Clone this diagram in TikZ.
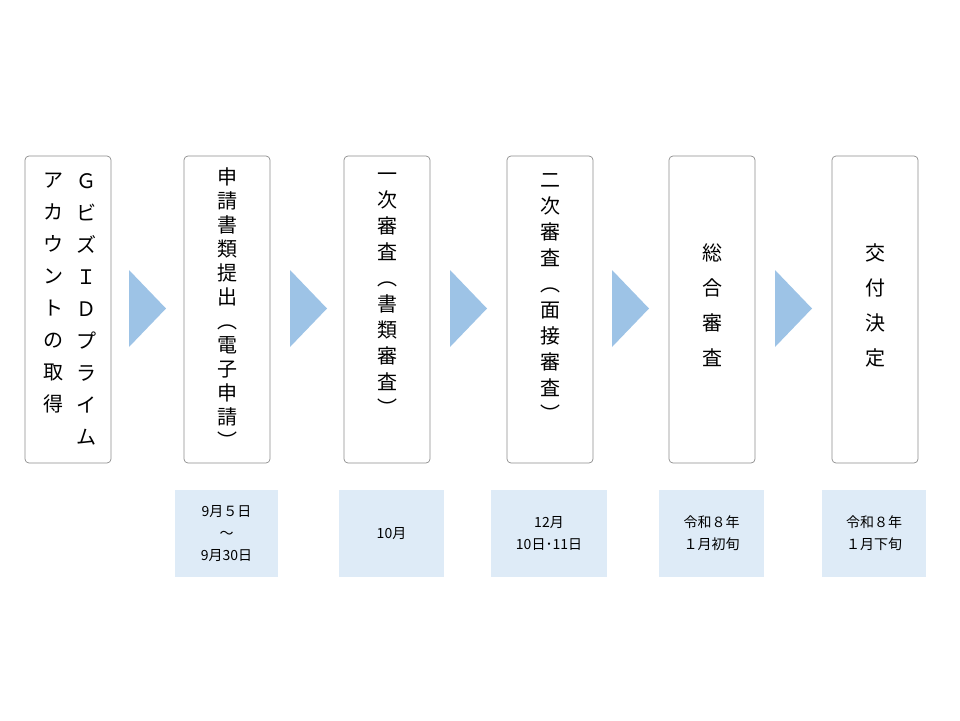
\documentclass[tikz,border=0pt]{standalone}
\usepackage{fontspec}
\setmainfont{Noto Sans CJK JP}
\newfontfamily\cjk{Noto Sans CJK JP}
\begin{document}
\begin{tikzpicture}[x=1pt,y=-1pt,
  stepbox/.style={draw=black!45,rounded corners=4pt,line width=0.7pt},
  datebox/.style={fill=datefill,draw=none},
  vt/.style={font=\cjk\fontsize{20}{#1}\selectfont,align=center,anchor=north,inner sep=0},
  dt/.style={font=\cjk\fontsize{14}{22}\selectfont,align=center}]
\definecolor{arrowfill}{HTML}{9DC3E6}
\definecolor{datefill}{HTML}{DEEBF7}
\useasboundingbox (0,0) rectangle (960,720);
\foreach \n/\x in {b1/25,b2/184,b3/344,b4/507,b5/669,b6/832}{
  \draw[stepbox] (\x,156) rectangle ++(86,307);
}
\foreach \x in {129,290,450,612,775}{
  \fill[arrowfill] (\x,270) -- (\x+37,308.5) -- (\x,347) -- cycle;
}
\node[vt=32] (t1a) at (86,173) {Ｇ\\ビ\\ズ\\Ｉ\\Ｄ\\プ\\ラ\\イ\\ム};
\node[vt=32] (t1b) at (53,173) {ア\\カ\\ウ\\ン\\ト\\の\\取\\得};
\node[vt=24] (t2) at (227,167) {申\\請\\書\\類\\提\\出\\︵\\電\\子\\申\\請\\︶};
\node[vt=26] (t3) at (387,173) {一\\次\\審\\査\\︵\\書\\類\\審\\査\\︶};
\node[vt=26] (t4) at (550,173) {二\\次\\審\\査\\︵\\面\\接\\審\\査\\︶};
\node[vt=35] (t5) at (712,243) {総\\合\\審\\査};
\node[vt=35] (t6) at (875,243) {交\\付\\決\\定};
\fill[datefill] (175,490) rectangle (278,577);
\fill[datefill] (339,490) rectangle (444,577);
\fill[datefill] (491,490) rectangle (607,577);
\fill[datefill] (659,490) rectangle (764,577);
\fill[datefill] (822,490) rectangle (926,577);
\node[dt] (d1) at (226.5,533.5) {9月５日\\～\\9月30日};
\node[dt] (d2) at (391.5,533.5) {10月};
\node[dt] (d3) at (549,533.5) {12月\\10日･11日};
\node[dt] (d4) at (711.5,533.5) {令和８年\\１月初旬};
\node[dt] (d5) at (874,533.5) {令和８年\\１月下旬};
\end{tikzpicture}
\end{document}
